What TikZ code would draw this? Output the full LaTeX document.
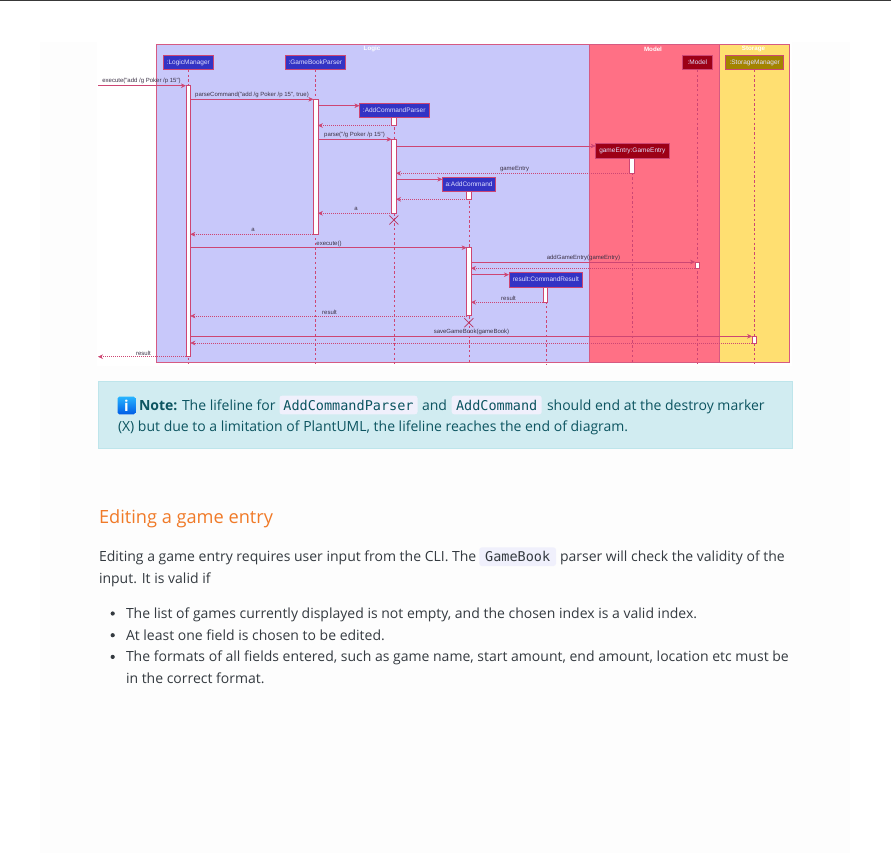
\documentclass[tikz,border=0pt]{standalone}
\usepackage{xcolor}
\usepackage{fontspec}
\setmainfont{Open Sans}
\newfontfamily\labelfont{Liberation Sans}
\newfontfamily\chipfont{DejaVu Sans Mono}
\usepackage{tikz}
\usetikzlibrary{arrows.meta, shapes.misc}
\definecolor{mypanel}{RGB}{253,253,253}
\definecolor{mypink}{RGB}{168,0,54}
\definecolor{myedge}{RGB}{214,90,130}
\definecolor{myline}{RGB}{205,70,115}
\definecolor{mylabel}{RGB}{60,50,70}
\definecolor{logicbg}{RGB}{200,200,250}
\definecolor{modelbg}{RGB}{255,112,133}
\definecolor{storagebg}{RGB}{255,223,113}
\definecolor{logichd}{RGB}{51,51,196}
\definecolor{modelhd}{RGB}{157,0,22}
\definecolor{storagehd}{RGB}{163,131,0}
\definecolor{notebg}{RGB}{209,236,241}
\definecolor{noteedge}{RGB}{190,229,235}
\definecolor{notetext}{RGB}{12,84,96}
\definecolor{chipbg}{RGB}{240,240,252}
\definecolor{bodytext}{RGB}{52,58,64}
\definecolor{headtext}{RGB}{240,122,40}
\tikzset{
  groupbox/.style={rectangle, draw=myedge, line width=0.8pt, anchor=north west, inner sep=0pt},
  grouptitle/.style={text=white, font=\labelfont\bfseries\fontsize{6.2}{7}\selectfont, inner sep=0pt},
  actor/.style={rectangle, draw=myline, line width=0.7pt, text=white!88!blue, inner sep=0pt,
    minimum height=14.7pt, font=\labelfont\fontsize{6.5}{7}\selectfont},
  actbar/.style={rectangle, draw=myline, fill=white, line width=0.6pt, anchor=north,
    minimum width=4.4pt, inner sep=0pt},
  lifeline/.style={draw=myline, line width=0.5pt, dash pattern=on 2.4pt off 2.4pt},
  msgarrow/.style={-{Stealth[length=5pt,width=4.6pt,inset=1.6pt]}, color=myline, line width=0.55pt},
  retarrow/.style={msgarrow, dash pattern=on 1pt off 1pt},
  msglabel/.style={text=mylabel, inner sep=0pt, font=\labelfont\fontsize{6}{7}\selectfont},
  destroy/.style={cross out, draw=mypink!80!white, line width=0.7pt, minimum size=9pt, inner sep=0pt},
  chip/.style={rectangle, fill=chipbg, rounded corners=2.5pt, anchor=base west, inner xsep=0pt,
    inner ysep=0pt, text height=14.3pt, text depth=4.3pt, align=center},
  body/.style={anchor=base west, inner sep=0pt, text=bodytext, font=\fontsize{14}{16}\selectfont},
  notebody/.style={body, text=notetext},
  bullet/.style={circle, fill=bodytext, minimum size=4.2pt, inner sep=0pt}
}

\begin{document}
\begin{tikzpicture}[x=1pt, y=-1pt, every node/.append style={outer sep=0pt}]
  \useasboundingbox (0,0) rectangle (891,853);

  % Page
  \fill[mypanel] (40,42) rectangle (850,853);
  \fill[white] (97,41) rectangle (792,366);
  \fill[black!78] (0,0) rectangle (891,1);

  % Groups
  \node[groupbox, fill=logicbg, minimum width=432.5pt, minimum height=317.5pt] (logicBox) at (156.5,44.5) {};
  \node[groupbox, fill=modelbg, minimum width=130pt, minimum height=317.5pt] (modelBox) at (589,44.5) {};
  \node[groupbox, fill=storagebg, minimum width=70.5pt, minimum height=317.5pt] (storageBox) at (719,44.5) {};
  \node[grouptitle] (logicTitle) at (372,49) {Logic};
  \node[grouptitle] (modelTitle) at (653,49) {Model};
  \node[grouptitle] (storageTitle) at (753.5,49) {Storage};

  % Participants
  \node[actor, fill=logichd, minimum width=50pt] (logicMgr) at (188.3,62.5) {:LogicManager};
  \node[actor, fill=logichd, minimum width=60.5pt] (bookParser) at (315.3,62.5) {:GameBookParser};
  \node[actor, fill=logichd, minimum width=69.5pt] (addParser) at (394.2,110.3) {:AddCommandParser};
  \node[actor, fill=modelhd, minimum width=73.3pt] (gameEntry) at (632.3,150.7) {gameEntry:GameEntry};
  \node[actor, fill=logichd, minimum width=53.3pt] (addCmd) at (469,184.3) {a:AddCommand};
  \node[actor, fill=logichd, minimum width=73.7pt] (cmdResult) at (545.8,279.5) {result:CommandResult};
  \node[actor, fill=modelhd, minimum width=30pt] (modelMgr) at (697.3,62.5) {:Model};
  \node[actor, fill=storagehd, minimum width=58pt] (storageMgr) at (754.7,62.5) {:StorageManager};

  % Lifelines
  \coordinate (lifeEnd) at (0,364);
  \foreach \who in {logicMgr, bookParser, addParser, gameEntry, addCmd, cmdResult, modelMgr, storageMgr}
    \draw[lifeline] (\who.south) -- (\who.south |- lifeEnd);

  % Activation bars
  \node[actbar, minimum height=271pt] (logicAct) at (188.1,85.7) {};
  \node[actbar, minimum height=135pt] (bookAct) at (315.6,99.3) {};
  \node[actbar, minimum height=7.8pt] (addParserA) at (393.8,117.7) {};
  \node[actbar, minimum height=74pt] (addParserB) at (393.8,139.3) {};
  \node[actbar, minimum height=15.3pt] (entryAct) at (631.8,158) {};
  \node[actbar, minimum height=7.6pt] (addCmdA) at (468.8,191.7) {};
  \node[actbar, minimum height=68pt] (addCmdB) at (468.8,247.7) {};
  \node[actbar, minimum height=6.3pt] (modelAct) at (697.3,262) {};
  \node[actbar, minimum height=15.3pt] (resultAct) at (545.4,287) {};
  \node[actbar, minimum height=6.7pt] (storageAct) at (754.3,336.3) {};

  % Destroy markers
  \node[destroy] (addParserX) at (393.8,220) {};
  \node[destroy] (addCmdX) at (468.8,322.7) {};

  % Free ends and rows
  \coordinate (userIn) at (98,85.7);
  \coordinate (userOut) at (98,356.7);
  \coordinate (rowAddParser) at (0,105.7);
  \coordinate (rowEntry) at (0,146);
  \coordinate (rowAddCmd) at (0,179.3);
  \coordinate (rowResultNew) at (0,274.7);
  \coordinate (rowBack) at (0,316);

  % Messages
  \draw[msgarrow] (userIn) -- (logicAct.north west);
  \draw[msgarrow] (logicAct.east |- bookAct.north) -- (bookAct.north west);
  \draw[msgarrow] (bookAct.east |- rowAddParser) -- (addParser.west |- rowAddParser);
  \draw[retarrow] (addParserA.south west) -- (bookAct.east |- addParserA.south);
  \draw[msgarrow] (bookAct.east |- addParserB.north) -- (addParserB.north west);
  \draw[msgarrow] (addParserB.east |- rowEntry) -- (gameEntry.west |- rowEntry);
  \draw[retarrow] (entryAct.south west) -- (addParserB.east |- entryAct.south);
  \draw[msgarrow] (addParserB.east |- rowAddCmd) -- (addCmd.west |- rowAddCmd);
  \draw[retarrow] (addCmdA.south west) -- (addParserB.east |- addCmdA.south);
  \draw[retarrow] (addParserB.south west) -- (bookAct.east |- addParserB.south);
  \draw[retarrow] (bookAct.south west) -- (logicAct.east |- bookAct.south);
  \draw[msgarrow] (logicAct.east |- addCmdB.north) -- (addCmdB.north west);
  \draw[msgarrow] (addCmdB.east |- modelAct.north) -- (modelAct.north west);
  \draw[retarrow] (modelAct.south west) -- (addCmdB.east |- modelAct.south);
  \draw[msgarrow] (addCmdB.east |- rowResultNew) -- (cmdResult.west |- rowResultNew);
  \draw[retarrow] (resultAct.south west) -- (addCmdB.east |- resultAct.south);
  \draw[retarrow] (addCmdB.west |- rowBack) -- (logicAct.east |- rowBack);
  \draw[msgarrow] (logicAct.east |- storageAct.north) -- (storageAct.north west);
  \draw[retarrow] (storageAct.south west) -- (logicAct.east |- storageAct.south);
  \draw[retarrow] (logicAct.south west) -- (userOut);

  % Message labels
  \node[msglabel] (lblExec) at (141.5,81) {execute("add /g Poker /p 15")};
  \node[msglabel] (lblParseCmd) at (252,95) {parseCommand("add /g Poker /p 15", true)};
  \node[msglabel] (lblParse) at (354.5,135) {parse("/g Poker /p 15")};
  \node[msglabel] (lblEntry) at (514.5,169) {gameEntry};
  \node[msglabel] (lblA) at (356,209) {a};
  \node[msglabel] (lblB) at (253,230) {a};
  \node[msglabel] (lblRun) at (329,243.5) {execute()};
  \node[msglabel] (lblAdd) at (583.5,257.5) {addGameEntry(gameEntry)};
  \node[msglabel] (lblResA) at (508.5,298) {result};
  \node[msglabel] (lblResB) at (329.5,312) {result};
  \node[msglabel] (lblSave) at (471.5,332) {saveGameBook(gameBook)};
  \node[msglabel] (lblResC) at (143.5,353) {result};

  % Note
  \node[groupbox, draw=noteedge, fill=notebg, line width=0.7pt, minimum width=693.5pt, minimum height=66.5pt] (noteBox) at (98.5,381.5) {};
  \node[rectangle, rounded corners=1.5pt, top color=blue!35!cyan!85!white, bottom color=blue!60!cyan!90!black,
    minimum width=17.6pt, minimum height=17.6pt, inner sep=0pt, text=white, font=\bfseries\fontsize{15}{16}\selectfont] (noteIcon) at (126.5,405.5) {i};
  \node[notebody] (noteHead) at (139,410) {\bfseries Note:};
  \node[notebody] (noteA) at (182,410) {The lifeline for};
  \node[chip, minimum width=138pt, text=notetext, font=\chipfont\fontsize{13.5}{16}\selectfont] (chipParser) at (279.5,410) {AddCommandParser};
  \node[notebody] (noteB) at (422,410) {and};
  \node[chip, minimum width=90pt, text=notetext, font=\chipfont\fontsize{13.5}{16}\selectfont] (chipCommand) at (451.7,410) {AddCommand};
  \node[notebody] (noteC) at (547,410) {should end at the destroy marker};
  \node[notebody] (noteD) at (118,431) {(X) but due to a limitation of PlantUML, the lifeline reaches the end of diagram.};

  % Section text
  \node[body, text=headtext, font=\fontsize{18.2}{22}\selectfont] (editHead) at (99,523.3) {Editing a game entry};
  \node[body] (paraA) at (99,561.7) {Editing a game entry requires user input from the CLI. The};
  \node[chip, minimum width=76.7pt, text=bodytext, font=\chipfont\fontsize{13.5}{16}\selectfont] (chipBook) at (479.3,561.7) {GameBook};
  \node[body] (paraB) at (560,561.7) {parser will check the validity of the};
  \node[body] (paraC) at (99,583.3) {input. It is valid if};

  % Bullets
  \node[bullet] (dotA) at (112.7,613.5) {};
  \node[bullet] (dotB) at (112.7,635.2) {};
  \node[bullet] (dotC) at (112.7,656.9) {};
  \node[body] (itemA) at (126,618.3) {The list of games currently displayed is not empty, and the chosen index is a valid index.};
  \node[body] (itemB) at (126,640) {At least one field is chosen to be edited.};
  \node[body] (itemC) at (126,661.7) {The formats of all fields entered, such as game name, start amount, end amount, location etc must be};
  \node[body] (itemD) at (126,683.3) {in the correct format.};
\end{tikzpicture}
\end{document}
